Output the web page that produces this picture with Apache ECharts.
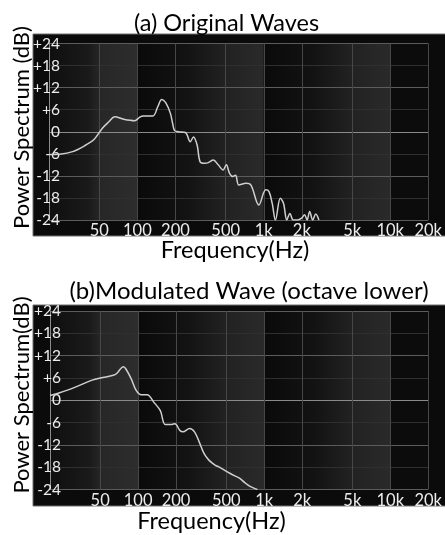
<!DOCTYPE html>
<html>
<head>
<meta charset="utf-8">
<script src="https://cdn.jsdelivr.net/npm/echarts@6/dist/echarts.min.js"></script>
<style>
html,body{margin:0;padding:0;background:#fff;}
#chart{width:445px;height:535px;}
</style>
</head>
<body>
<div id="chart"></div>
<script>
// ---- data ----
const freqA = [20, 24.3, 30.8, 39.2, 45.4, 52.7, 59.5, 66.2, 78, 95.5, 103, 111, 132.6, 145, 155.8, 167.6, 182.5, 190, 197, 212, 240, 262, 278, 297, 314, 343, 364, 399, 436, 477, 505, 536, 569, 598, 635, 724, 792, 914, 1037, 1100, 1166, 1237, 1352, 1434, 1521, 1610, 1710, 1850, 1993, 2100, 2200, 2306, 2440, 2573, 2730];
const dbA   = [-6.2, -6.1, -5.4, -3.6, -2.1, 0.9, 2.7, 4.1, 3.4, 3.0, 3.8, 4.3, 4.3, 6.8, 8.8, 7.9, 5.0, 2.3, 0.3, 0, -0.2, -2.7, -1.4, -3.6, -8.2, -8.6, -8.4, -7.7, -9.0, -10.4, -9.0, -11.3, -12.2, -11.8, -14.5, -14.0, -14.5, -19.9, -15.8, -16.3, -19.5, -24, -18.1, -19.5, -24, -22.2, -24, -24, -23.5, -22.6, -24, -21.7, -24, -22.4, -24];

const freqB = [20, 23.9, 32.1, 43.2, 50.4, 63.6, 67.6, 76.5, 80, 88, 96.2, 105, 118, 133, 150, 164, 184.6, 196, 214, 227, 256, 280, 305, 333, 364, 410, 437, 494, 538, 590, 640, 704, 766, 836, 882];
const dbB   = [1.3, 2.0, 3.6, 5.4, 6.0, 6.7, 7.2, 9.0, 8.4, 5.8, 2.7, 1.5, 1.5, -0.5, -2.8, -6.5, -6.5, -6.3, -8.1, -8.5, -7.6, -8.5, -11.2, -14.3, -16.1, -17.5, -17.9, -19.0, -19.7, -20.4, -21.0, -22.2, -23.1, -23.7, -24];

const freqTicks = [50, 100, 200, 500, 1000, 2000, 5000, 10000, 20000];
const freqTickLabels = ['50', '100', '200', '500', '1k', '2k', '5k', '10k', '20k'];
const dbTicks = [-24, -18, -12, -6, 0, 6, 12, 18, 24];
const bandEdges = [20, 100, 1000, 10000, 20000];

// ---- chart ----
const chart = echarts.init(document.getElementById('chart'), null, {renderer: 'canvas'});
const FONT = 'Lato';

function grad(stops) {
  return {type: 'linear', x: 0, y: 0, x2: 1, y2: 0,
    colorStops: stops.map(s => ({offset: s[0], color: s[1]}))};
}
const bandColors = [
  grad([[0, '#0f0f0f'], [0.45, '#1a1a1a'], [0.58, '#272727'], [1, '#2d2d2d']]),
  grad([[0, '#0a0a0a'], [0.4, '#131313'], [0.7, '#222222'], [1, '#2a2a2a']]),
  grad([[0, '#0a0a0a'], [0.4, '#131313'], [0.7, '#222222'], [1, '#2a2a2a']]),
  grad([[0, '#0c0c0c'], [1, '#0c0c0c']])
];
function bands() {
  const d = [];
  for (let i = 0; i < bandEdges.length - 1; i++) {
    d.push([{xAxis: bandEdges[i], itemStyle: {color: bandColors[i]}}, {xAxis: bandEdges[i + 1]}]);
  }
  return d;
}
const hLineColors = dbTicks.map(v => v === 0 ? '#8a8a8a' : (v % 12 === 0 ? '#5c5c5c' : '#2f2f2f'));

function xAxisFor(gi, margin) {
  return {
    type: 'log', logBase: 10, gridIndex: gi, min: 20, max: 20000,
    axisLine: {show: false},
    axisTick: {show: false, customValues: freqTicks},
    axisLabel: {customValues: freqTicks, margin: margin, color: '#ececec', fontSize: 16.5, fontFamily: FONT,
      formatter: v => freqTickLabels[freqTicks.indexOf(Math.round(v))] || ''},
    splitLine: {show: true, lineStyle: {color: '#474747', width: 1}}
  };
}
function yAxisFor(gi) {
  return {
    type: 'value', gridIndex: gi, min: -24, max: 24, interval: 6,
    axisLine: {show: true, lineStyle: {color: '#8c8c8c', width: 1}},
    axisTick: {show: false},
    axisLabel: {margin: -11, align: 'right', color: '#ececec', fontSize: 15.5, fontFamily: FONT,
      formatter: v => (v > 0 ? '+' + v : String(v))},
    splitLine: {show: true, lineStyle: {color: hLineColors, width: 1}}
  };
}
function curve(gi, f, db) {
  return {
    type: 'line', xAxisIndex: gi, yAxisIndex: gi,
    data: f.map((x, i) => [x, db[i]]),
    showSymbol: false, smooth: 0.35, clip: true,
    lineStyle: {color: '#cfcfcf', width: 1.5},
    z: 5
  };
}
function bandSeries(gi) {
  return {
    type: 'line', xAxisIndex: gi, yAxisIndex: gi, data: [], z: -1, silent: true,
    markArea: {silent: true, z: -1, data: bands()}
  };
}

const option = {
  animation: false,
  backgroundColor: '#ffffff',
  grid: [
    {left: 49, top: 43.5, width: 387, height: 176.5},
    {left: 50, top: 311, width: 389, height: 178.5}
  ],
  xAxis: [xAxisFor(0, 2), xAxisFor(1, 3)],
  yAxis: [yAxisFor(0), yAxisFor(1)],
  series: [bandSeries(0), bandSeries(1), curve(0, freqA, dbA), curve(1, freqB, dbB)],
  graphic: [
    {type: 'rect', z: -100, shape: {x: 33, y: 34, width: 430, height: 202}, style: {fill: '#0b0b0b', stroke: '#6e6e6e', lineWidth: 1}},
    {type: 'rect', z: -100, shape: {x: 33, y: 305, width: 430, height: 201}, style: {fill: '#0b0b0b', stroke: '#6e6e6e', lineWidth: 1}},
    {type: 'text', x: 226.5, y: 23.5, style: {text: '(a) Original Waves', font: '23.5px ' + FONT, fill: '#000', textAlign: 'center', textVerticalAlign: 'middle'}},
    {type: 'text', x: 249, y: 291, style: {text: '(b)Modulated Wave (octave lower)', font: '24px ' + FONT, fill: '#000', textAlign: 'center', textVerticalAlign: 'middle'}},
    {type: 'text', x: 235, y: 250, style: {text: 'Frequency(Hz)', font: '23.5px ' + FONT, fill: '#000', textAlign: 'center', textVerticalAlign: 'middle'}},
    {type: 'text', x: 211.5, y: 521, style: {text: 'Frequency(Hz)', font: '23.5px ' + FONT, fill: '#000', textAlign: 'center', textVerticalAlign: 'middle'}},
    {type: 'text', x: 22, y: 127.5, rotation: Math.PI / 2, style: {text: 'Power Spectrum (dB)', font: '22px ' + FONT, fill: '#000', textAlign: 'center', textVerticalAlign: 'middle'}},
    {type: 'text', x: 22, y: 395, rotation: Math.PI / 2, style: {text: 'Power Spectrum(dB)', font: '22px ' + FONT, fill: '#000', textAlign: 'center', textVerticalAlign: 'middle'}}
  ]
};
chart.setOption(option);
</script>
</body>
</html>
